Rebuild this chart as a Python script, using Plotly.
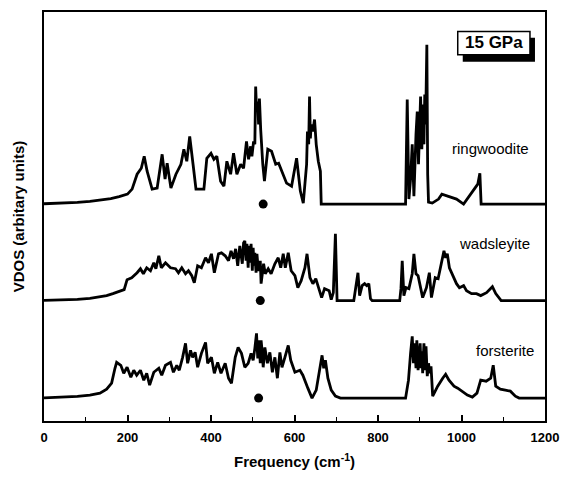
import plotly.graph_objects as go

# ---------------- data ----------------
# ringwoodite: frequency (cm-1) and VDOS height (arb. units)
ring_f = [0, 40, 80, 110, 140, 160, 180, 200, 211, 223, 233, 240, 247, 259, 271, 283, 290, 295, 304,
          316, 328, 335, 342,
          349, 357, 364, 383, 390, 400, 407, 414, 423, 431, 438, 447, 454, 462, 471, 478, 485, 490,
          495, 498, 502, 505, 507, 509, 512, 514, 516, 519, 521, 524, 528, 536, 545, 555, 562, 569,
          581, 593, 605, 614, 621, 629, 631, 634, 636, 638, 640, 644, 648, 652, 657, 662, 664,
          866, 870, 874, 878, 882, 886, 891, 894, 897, 900, 902, 905, 907, 910, 912, 914, 917,
          919, 921, 930, 945, 953, 968, 988, 1005, 1015, 1027, 1039, 1044, 1047, 1200]
ring_h = [0.3, 0.8, 1.6, 2.6, 4, 5.5, 7.5, 10, 15, 30, 36, 48, 33, 15, 16, 50, 25, 41, 16,
          30, 40, 55, 43,
          68, 40, 15, 15, 46, 51, 45, 48, 23, 18, 43, 30, 51, 30, 40, 36, 63, 45,
          58, 48, 63, 60, 118, 95, 103, 80, 106, 75, 56, 40, 23, 55, 53, 40, 41, 33,
          21, 18, 46, 13, 1, 40, 73, 60, 108, 66, 80, 73, 85, 60, 43, 33, 0,
          0, 105, 5, 25, 60, 8, 70, 93, 40, 100, 108, 55, 100, 60, 110, 80, 160,
          30, 2, 1, 5, 10, 8, 5, 0, 6, 13, 20, 31, 0, 0]

# wadsleyite
wad_f = [0, 40, 80, 110, 134, 150, 165, 182, 192, 199, 210, 223, 231, 238, 246, 255, 263, 268,
         275, 281, 291, 303,
         315, 322, 330, 339, 346, 354, 360, 368, 377, 387, 394, 401, 408, 418, 425, 434, 442,
         448, 454, 459, 464, 469, 475, 478, 481, 484, 486, 489, 491, 494, 496, 499, 501, 503,
         505, 508, 510, 513, 515, 518, 520, 526, 530, 537, 544, 553, 561, 567, 573, 578, 585,
         592, 601, 608, 616, 625, 630, 637, 644, 651, 658, 665, 672, 683, 688, 693, 698, 702,
         742, 746, 752, 756, 762, 768, 773, 778, 782, 786,
         852, 855, 858, 862, 867, 874, 882, 886, 891, 896, 902, 907, 916, 923, 928, 937, 944,
         952, 958, 962, 966, 971, 981, 988, 995, 1005, 1012, 1024, 1036, 1046, 1060, 1074,
         1082, 1095, 1200]
wad_h = [0.2, 0.6, 1.3, 2.3, 3.5, 5, 7, 9.5, 11, 21, 23, 28, 32, 27, 33, 30, 38, 32,
         45, 33, 38, 33,
         32, 28, 33, 27, 30, 25, 18, 35, 33, 43, 38, 47, 28, 47, 48, 45, 40,
         50, 42, 52, 35, 55, 37, 58, 60, 40, 57, 33, 55, 38, 57, 30, 53, 35,
         48, 28, 47, 32, 30, 40, 17, 37, 27, 32, 27, 37, 43, 33, 47, 33, 48,
         30, 25, 13, 20, 33, 47, 23, 17, 22, 12, 3, 12, 10, 1, 8, 67, 0,
         0, 12, 28, 5, 15, 17, 15, 17, 2, 0,
         0, 12, 40, 5, 13, 12, 27, 47, 27, 25, 13, 3, 13, 28, 3, 23, 22,
         40, 50, 43, 47, 33, 23, 17, 13, 15, 10, 7, 7, 5, 8, 14,
         7, 0, 0]

# forsterite
fo_f = [0, 40, 80, 110, 134, 150, 162, 170, 174, 184, 191, 199, 208, 215, 222, 231, 239, 246, 253,
        263, 275, 282, 291, 303, 310, 318, 324, 332, 339, 344, 351, 356, 362, 368, 377, 387,
        392, 401, 408, 416, 424, 434, 442, 449, 458, 465, 473, 481, 489, 496, 501, 505, 509,
        512, 515, 518, 520, 523, 525, 529, 535, 541, 547, 553, 559, 565, 570, 577, 585, 591,
        601, 613, 620, 632, 642, 652, 660, 666, 670, 674, 680, 688, 698, 710,
        866, 873, 878, 882, 885, 888, 891, 893, 896, 898, 901, 903, 905, 907, 910, 913, 915,
        918, 921, 924, 927, 931, 943, 955, 962, 970, 982, 991, 1002, 1014, 1026, 1037, 1046,
        1059, 1070, 1076, 1082, 1093, 1105, 1117, 1129, 1138, 1200]
fo_h = [0.3, 0.8, 1.7, 3, 5, 9, 15, 30, 36, 33, 25, 31, 21, 28, 23, 28, 18, 25, 13,
        26, 30, 23, 33, 36, 26, 33, 28, 41, 55, 35, 48, 41, 46, 31, 45, 56,
        35, 41, 25, 36, 25, 35, 20, 15, 41, 51, 45, 31, 35, 45, 38, 50, 65,
        40, 58, 35, 58, 45, 31, 51, 35, 46, 26, 41, 20, 46, 31, 41, 53, 38,
        26, 28, 23, 10, 0, 8, 30, 43, 30, 38, 20, 8, 2, 0,
        0, 18, 45, 62, 35, 55, 30, 58, 28, 40, 55, 30, 47, 25, 55, 28, 52,
        22, 35, 25, 32, 2, 12, 20, 24, 18, 12, 10, 7, 3, 1, 5, 18,
        17, 20, 33, 12, 9, 8, 7, 2, 0, 0]

names = ["ringwoodite", "wadsleyite", "forsterite"]
dot_freq = [525, 518, 514]
x_ticks = [0, 200, 400, 600, 800, 1000, 1200]

# ---------------- layout constants ----------------
offsets = {"ringwoodite": 218, "wadsleyite": 121, "forsterite": 23}
series = {"ringwoodite": (ring_f, ring_h), "wadsleyite": (wad_f, wad_h), "forsterite": (fo_f, fo_h)}
FONT = "Liberation Sans, Arial, Helvetica, sans-serif"

fig = go.Figure()
for nm in names:
    f, h = series[nm]
    off = offsets[nm]
    fig.add_trace(go.Scatter(x=f, y=[v + off for v in h], mode="lines",
                             line=dict(color="black", width=2.8), showlegend=False, hoverinfo="skip"))
fig.add_trace(go.Scatter(x=dot_freq, y=[offsets[n] for n in names], mode="markers",
                         marker=dict(color="black", size=9), showlegend=False, hoverinfo="skip"))

label_pos = {"ringwoodite": (1070, 274), "wadsleyite": (1078, 178), "forsterite": (1104, 71)}
for nm in names:
    lx, ly = label_pos[nm]
    fig.add_annotation(x=lx, y=ly, text=nm, showarrow=False,
                       font=dict(family=FONT, size=15, color="black"))

# "15 GPa" box with drop shadow
fig.add_shape(type="rect", xref="x", yref="y", x0=1003, x1=1176, y0=361, y1=385,
              fillcolor="black", line=dict(width=0), layer="above")
fig.add_shape(type="rect", xref="x", yref="y", x0=991, x1=1164, y0=368, y1=391.5,
              fillcolor="white", line=dict(color="black", width=1.5), layer="above")
fig.add_annotation(x=1077, y=380, text="<b>15 GPa</b>", showarrow=False,
                   font=dict(family=FONT, size=17, color="black"))

fig.update_layout(
    width=571, height=493,
    margin=dict(l=44, r=26, t=10, b=72),
    paper_bgcolor="white", plot_bgcolor="white",
    font=dict(family=FONT, color="black"),
    xaxis=dict(range=[0, 1200], tickvals=x_ticks, ticks="inside", ticklen=6, tickwidth=1.5,
               tickcolor="black", showgrid=False, zeroline=False, ticklabelstandoff=4,
               showline=True, linecolor="black", linewidth=1.5, mirror=True,
               tickfont=dict(family=FONT, size=13, color="black", weight="bold"),
               minor=dict(dtick=100, ticks="inside", ticklen=4, tickwidth=1.2, tickcolor="black",
                          showgrid=False),
               title=dict(text="<b>Frequency (cm<sup>-1</sup>)</b>", standoff=12,
                          font=dict(family=FONT, size=15, color="black"))),
    yaxis=dict(range=[0, 411], showticklabels=False, ticks="", showgrid=False, zeroline=False,
               showline=True, linecolor="black", linewidth=1.5, mirror=True,
               title=dict(text="<b>VDOS (arbitary units)</b>", standoff=14,
                          font=dict(family=FONT, size=15, color="black"))),
)

fig.write_html("out.html")
